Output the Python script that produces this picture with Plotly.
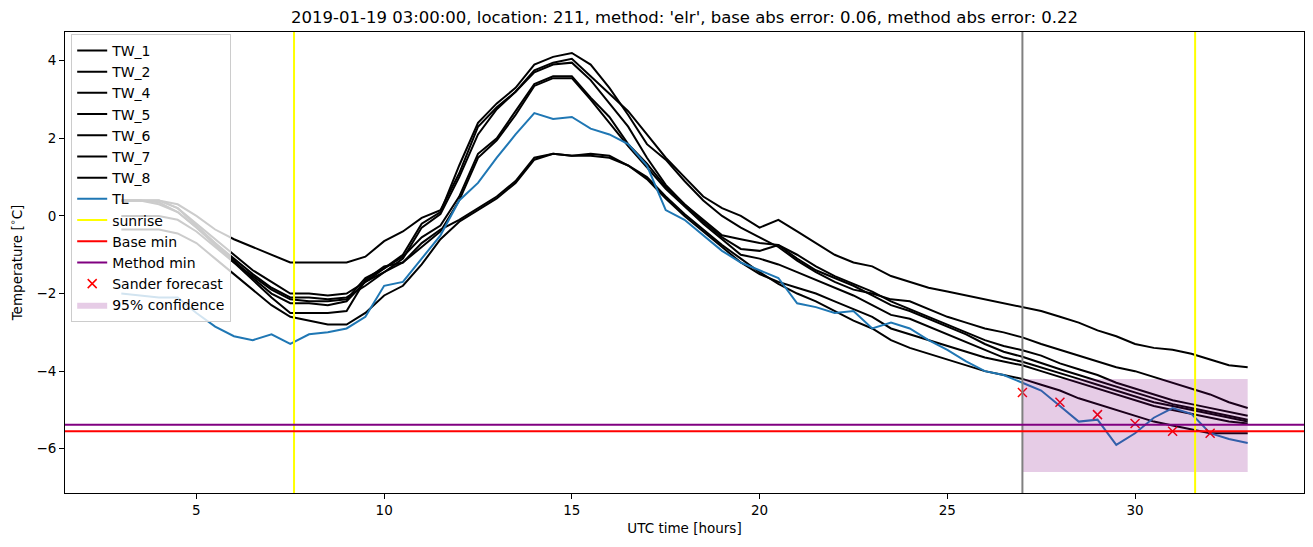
import plotly.graph_objects as go

# half-hourly samples, UTC hours since the start of the previous day
hours = [3 + 0.5 * i for i in range(61)]

TW_1 = [0.4, 0.4, 0.4, 0.3, 0.0, -0.35, -0.6, -0.8, -1.0, -1.2, -1.2, -1.2, -1.2, -1.05, -0.65, -0.4,
        -0.05, 0.15, 1.1, 2.3, 2.8, 3.2, 3.75, 3.95, 4.05, 3.6, 3.15, 2.7, 2.1, 1.5, 1.0, 0.5, 0.2, 0.0,
        -0.3, -0.1, -0.4, -0.7, -1.0, -1.2, -1.3, -1.55, -1.7, -1.85, -1.95, -2.05, -2.15, -2.25, -2.35,
        -2.45, -2.6, -2.75, -2.95, -3.1, -3.3, -3.4, -3.45, -3.55, -3.7, -3.85, -3.9]
TW_2 = [0.4, 0.4, 0.4, 0.2, -0.2, -0.6, -1.0, -1.4, -1.7, -2.0, -2.0, -2.05, -2.0, -1.7, -1.35, -1.0,
        -0.2, 0.1, 1.3, 2.4, 2.9, 3.3, 3.9, 4.1, 4.2, 3.9, 3.3, 2.6, 1.85, 1.45, 0.9, 0.4, 0.0, -0.3,
        -0.55, -0.8, -1.15, -1.45, -1.7, -1.9, -2.0, -2.15, -2.2, -2.4, -2.6, -2.75, -2.9, -3.0, -3.13,
        -3.3, -3.45, -3.6, -3.75, -3.9, -4.0, -4.15, -4.3, -4.45, -4.6, -4.8, -4.95]
TW_4 = [0.4, 0.4, 0.3, 0.1, -0.3, -0.7, -1.1, -1.5, -1.85, -2.1, -2.1, -2.15, -2.1, -1.8, -1.45, -1.1,
        -0.3, 0.05, 1.0, 2.1, 2.75, 3.2, 3.7, 3.9, 3.95, 3.5, 2.9, 2.3, 1.5, 0.8, 0.3, -0.1, -0.5, -0.6,
        -0.7, -0.75, -1.0, -1.3, -1.55, -1.75, -1.95, -2.2, -2.4, -2.6, -2.8, -3.0, -3.2, -3.35, -3.46,
        -3.6, -3.8, -3.95, -4.1, -4.3, -4.45, -4.6, -4.75, -4.85, -4.95, -5.05, -5.15]
TW_5 = [0.0, 0.0, 0.0, -0.1, -0.4, -0.8, -1.2, -1.55, -1.9, -2.15, -2.2, -2.2, -2.15, -1.6, -1.35, -1.05,
        -0.55, -0.25, 0.5, 1.6, 2.0, 2.7, 3.4, 3.6, 3.6, 3.05, 2.55, 1.85, 1.35, 0.75, 0.3, -0.15, -0.55,
        -0.85, -0.9, -0.75, -1.1, -1.4, -1.6, -1.8, -2.05, -2.3, -2.45, -2.65, -2.85, -3.05, -3.3, -3.5,
        -3.63, -3.8, -3.95, -4.1, -4.25, -4.4, -4.55, -4.7, -4.85, -4.95, -5.05, -5.15, -5.25]
TW_6 = [0.4, 0.4, 0.4, 0.2, -0.25, -0.7, -1.15, -1.6, -2.0, -2.25, -2.25, -2.3, -2.2, -1.7, -1.45, -1.2,
        -0.8, -0.4, 0.4, 1.5, 1.95, 2.6, 3.35, 3.55, 3.55, 3.0, 2.4, 1.8, 1.25, 0.7, 0.25, -0.2, -0.6,
        -1.0, -1.1, -1.25, -1.45, -1.65, -1.85, -2.05, -2.3, -2.55, -2.65, -2.85, -3.05, -3.25, -3.45,
        -3.65, -3.76, -3.9, -4.05, -4.2, -4.35, -4.5, -4.65, -4.8, -4.9, -5.0, -5.1, -5.2, -5.3]
TW_7 = [0.4, 0.4, 0.35, 0.1, -0.3, -0.75, -1.2, -1.65, -2.1, -2.5, -2.5, -2.5, -2.45, -1.65, -1.3, -1.2,
        -0.7, -0.35, -0.1, 0.2, 0.5, 0.9, 1.5, 1.6, 1.55, 1.6, 1.55, 1.3, 0.95, 0.45, 0.0, -0.4, -0.8,
        -1.2, -1.5, -1.7, -1.85, -2.0, -2.2, -2.4, -2.6, -2.9, -3.05, -3.2, -3.35, -3.5, -3.65, -3.75,
        -3.85, -4.0, -4.15, -4.3, -4.45, -4.6, -4.75, -4.9, -5.0, -5.1, -5.2, -5.3, -5.35]
TW_8 = [-0.35, -0.35, -0.35, -0.45, -0.7, -1.1, -1.5, -1.9, -2.3, -2.6, -2.7, -2.8, -2.8, -2.5, -2.05, -1.8,
        -1.25, -0.6, -0.15, 0.15, 0.45, 0.85, 1.45, 1.6, 1.55, 1.55, 1.5, 1.3, 1.0, 0.5, 0.05, -0.35, -0.75,
        -1.1, -1.45, -1.75, -2.0, -2.2, -2.45, -2.7, -2.9, -3.2, -3.4, -3.55, -3.7, -3.85, -4.0, -4.1,
        -4.2, -4.35, -4.5, -4.7, -4.85, -5.0, -5.15, -5.3, -5.4, -5.5, -5.6, -5.6, -5.6]
TL = [-2.0, -2.05, -2.1, -2.1, -2.5, -2.85, -3.1, -3.2, -3.05, -3.3, -3.05, -3.0, -2.9, -2.6, -1.8, -1.7,
      -1.1, -0.5, 0.4, 0.85, 1.5, 2.1, 2.65, 2.5, 2.55, 2.25, 2.1, 1.85, 1.3, 0.15, -0.1, -0.5, -0.9,
      -1.2, -1.4, -1.6, -2.25, -2.35, -2.5, -2.45, -2.9, -2.75, -2.9, -3.2, -3.45, -3.75, -4.0, -4.1,
      -4.3, -4.5, -4.9, -5.3, -5.25, -5.9, -5.6, -5.2, -4.95, -5.1, -5.6, -5.75, -5.85]

tw_names = ['TW_1', 'TW_2', 'TW_4', 'TW_5', 'TW_6', 'TW_7', 'TW_8']
tw_series = [TW_1, TW_2, TW_4, TW_5, TW_6, TW_7, TW_8]

sunrise = [7.6, 31.6]
forecast_time = 27.0
base_min = -5.55
method_min = -5.38

sander_hours = [27, 28, 29, 30, 31, 32]
sander_values = [-4.55, -4.8, -5.12, -5.35, -5.55, -5.6]

conf_hours = [27.0, 33.0]
conf_low = -6.6
conf_high = -4.2

title = ("2019-01-19 03:00:00, location: 211, method: 'elr', "
         "base abs error: 0.06, method abs error: 0.22")

fig = go.Figure()

rank = 1
for name, vals in zip(tw_names, tw_series):
    fig.add_trace(go.Scatter(x=hours, y=vals, mode='lines', name=name,
                             line=dict(color='black', width=2),
                             legendgroup=name, legendrank=rank))
    rank += 1

fig.add_trace(go.Scatter(x=hours, y=TL, mode='lines', name='TL',
                         line=dict(color='#1f77b4', width=2),
                         legendgroup='TL', legendrank=rank))

# legend-only entries for the reference lines (drawn as shapes below)
fig.add_trace(go.Scatter(x=[None], y=[None], mode='lines', name='sunrise',
                         line=dict(color='yellow', width=2), legendgroup='sunrise', legendrank=rank + 1))
fig.add_trace(go.Scatter(x=[None], y=[None], mode='lines', name='Base min',
                         line=dict(color='red', width=2), legendgroup='base', legendrank=rank + 2))
fig.add_trace(go.Scatter(x=[None], y=[None], mode='lines', name='Method min',
                         line=dict(color='purple', width=2), legendgroup='method', legendrank=rank + 3))

fig.add_trace(go.Scatter(x=sander_hours, y=sander_values, mode='markers', name='Sander forecast',
                         marker=dict(symbol='x-thin', size=9, color='red',
                                     line=dict(color='red', width=1.5)),
                         legendgroup='sander', legendrank=rank + 4))

fig.add_trace(go.Scatter(x=[conf_hours[0], conf_hours[1], conf_hours[1], conf_hours[0], conf_hours[0]],
                         y=[conf_low, conf_low, conf_high, conf_high, conf_low],
                         mode='lines', fill='toself', fillcolor='rgba(128,0,128,0.2)',
                         line=dict(width=0), name='95% confidence',
                         legendgroup='conf', legendrank=rank + 5))

for s in sunrise:
    fig.add_vline(x=s, line_color='yellow', line_width=2)
fig.add_vline(x=forecast_time, line_color='gray', line_width=2)
fig.add_hline(y=base_min, line_color='red', line_width=2)
fig.add_hline(y=method_min, line_color='purple', line_width=2)

all_y = [v for s in tw_series for v in s] + TL + [conf_low, conf_high]
y_lo, y_hi = min(all_y), max(all_y)
y_pad = 0.05 * (y_hi - y_lo)
x_pad = 0.05 * (hours[-1] - hours[0])

fig.update_layout(
    width=1313, height=547,
    margin=dict(l=65, r=9, t=32, b=54),
    paper_bgcolor='white', plot_bgcolor='white',
    font=dict(family='DejaVu Sans', size=14, color='black'),
    title=dict(text=title, x=0.5, xref='paper', xanchor='center',
               yref='container', y=1 - 17 / 547, yanchor='middle',
               font=dict(size=16.5)),
    legend=dict(x=0.005, y=0.996, xanchor='left', yanchor='top',
                bgcolor='rgba(255,255,255,0.8)', bordercolor='#cccccc', borderwidth=1,
                font=dict(size=14), tracegroupgap=0, itemwidth=30),
    showlegend=True,
)
fig.update_xaxes(range=[hours[0] - x_pad, hours[-1] + x_pad], automargin=False,
                 title=dict(text='UTC time [hours]', standoff=6, font=dict(size=13.5)),
                 tickvals=[5, 10, 15, 20, 25, 30], ticks='outside', ticklen=5, tickcolor='black',
                 tickfont=dict(size=13.5),
                 showgrid=False, zeroline=False, showline=True, linecolor='black', linewidth=1, mirror=True)
fig.update_yaxes(range=[y_lo - y_pad, y_hi + y_pad], automargin=False,
                 title=dict(text='Temperature [<sup>∘</sup>C]', standoff=10, font=dict(size=13.5)),
                 tickvals=[-6, -4, -2, 0, 2, 4], ticks='outside', ticklen=5, tickcolor='black',
                 tickfont=dict(size=13.5),
                 showgrid=False, zeroline=False, showline=True, linecolor='black', linewidth=1, mirror=True)

fig.write_html("out.html", config={'displayModeBar': False},
               post_script="document.body.style.margin='0';")
